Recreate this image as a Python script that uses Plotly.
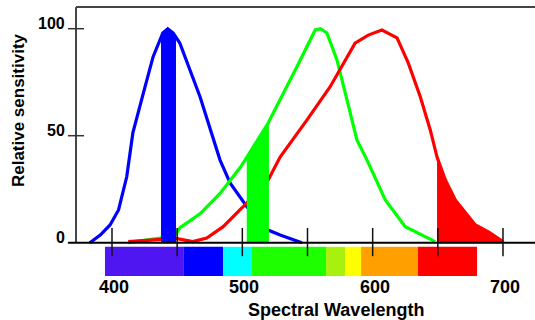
import numpy as np
import plotly.graph_objects as go

# ---------------- data ----------------
blue_nm = [383, 391, 398.5, 405, 411.3, 416, 424, 431.5, 439, 442.8, 447, 452, 467.6, 482.9, 490.6, 503.5, 519.8, 529, 545.7]
blue_val = [0, 3.6, 8.3, 15.3, 30.8, 51.3, 69.8, 86.8, 98, 100, 98, 93.3, 68.1, 38.6, 27.9, 16.8, 5.9, 3.6, 0]

green_nm = [412.5, 425, 436.9, 449, 452.2, 467.5, 482.9, 498.2, 502.1, 519.8, 529, 541.9, 555.9, 560, 564.9, 572.6, 580.3, 587.9, 595.6, 609.7, 625, 648]
green_val = [0, 1, 2.2, 4, 7, 13.5, 23, 35, 38.6, 55.9, 66.7, 82.2, 99.4, 100, 98, 85.4, 66.7, 48, 38.7, 20, 7.5, 0.5]

red_nm = [412.5, 430, 449, 462, 472.7, 485.3, 500.6, 519.8, 529, 549.5, 567.4, 586.5, 590.5, 596.6, 607.1, 618.7, 627.3, 636.6, 644.2, 649.4, 655.8, 663.4, 678.8, 688.8, 700]
red_val = [0.5, 1.3, 2, 0.5, 2.2, 7.5, 16.8, 29.3, 40, 57.3, 72.9, 93.2, 94.7, 97, 99.4, 95.7, 84, 68.1, 52.7, 40, 29.3, 20, 8.3, 5.1, 0.5]

# shaded bands under each curve (nm)
blue_band = [437.6, 448.7]
green_band = [503.4, 520]
red_band = [649.4, 700]

# spectrum strip: band edges (nm) and colours
spectrum_edges = [394.6, 454.7, 485.2, 507.4, 564.2, 578.8, 591.1, 634.8, 680.1]
spectrum_colors = ["#5016f2", "#0000ff", "#00ffff", "#1eff00", "#a8f010", "#ffff00", "#ffa000", "#ff0000"]

x_ticks = [400, 450, 500, 550, 600, 650, 700]
x_tick_labels = ["400", "500", "600", "700"]
x_label_vals = [400, 500, 600, 700]
y_ticks = [0, 50, 100]
y_tick_labels = ["0", "50", "100"]

# ---------------- geometry (axis ranges) ----------------
X0, X1 = 314.06, 724.56
Y0, Y1 = -36.12, 113.41
X_AXIS_LEFT = 372.4
Y_TOP = 110.1

fig = go.Figure()

def line(nm, val, color):
    fig.add_trace(go.Scatter(x=nm, y=val, mode="lines",
                             line=dict(color=color, width=3.2),
                             hoverinfo="skip", showlegend=False))

def band(nm, val, lo, hi, color):
    nm = np.asarray(nm, float); val = np.asarray(val, float)
    inner = (nm > lo) & (nm < hi)
    xs = [lo] + list(nm[inner]) + [hi]
    ys = list(np.interp(xs, nm, val))
    px = xs + [hi, lo]
    py = ys + [0, 0]
    fig.add_trace(go.Scatter(x=px, y=py, mode="lines", fill="toself",
                             fillcolor=color, line=dict(color=color, width=1),
                             hoverinfo="skip", showlegend=False))

line(blue_nm, blue_val, "#0000ff")
line(green_nm, green_val, "#00ff00")
line(red_nm, red_val, "#ff0000")
band(blue_nm, blue_val, *blue_band, "#0000ff")
band(green_nm, green_val, *green_band, "#00ff00")
band(red_nm, red_val, *red_band, "#ff0000")

shapes = []
# spectrum strip
for i, c in enumerate(spectrum_colors):
    shapes.append(dict(type="rect", xref="x", yref="y",
                       x0=spectrum_edges[i], x1=spectrum_edges[i + 1],
                       y0=-1.9, y1=-15.6, fillcolor=c, line=dict(width=0), layer="below"))
# frame
shapes.append(dict(type="line", xref="x", yref="y", x0=X_AXIS_LEFT, x1=X1, y0=Y_TOP, y1=Y_TOP,
                   line=dict(color="#444444", width=2)))
shapes.append(dict(type="line", xref="x", yref="y", x0=X_AXIS_LEFT, x1=X_AXIS_LEFT, y0=0, y1=Y_TOP,
                   line=dict(color="#444444", width=2)))
# baseline
shapes.append(dict(type="line", xref="x", yref="y", x0=366.2, x1=X1, y0=0, y1=0,
                   line=dict(color="#000000", width=2)))
# x ticks crossing baseline
for t in x_ticks:
    shapes.append(dict(type="line", xref="x", yref="y", x0=t, x1=t, y0=6.9, y1=-6.3,
                       line=dict(color="#111111", width=1.5)))
# y ticks
for t in y_ticks[1:]:
    shapes.append(dict(type="line", xref="x", yref="y", x0=366.2, x1=378.5, y0=t, y1=t,
                       line=dict(color="#333333", width=1.5)))

font = dict(family="Liberation Sans, Arial, sans-serif", color="#000000", weight="bold")
annotations = []
for v, s in zip(y_ticks, y_tick_labels):
    annotations.append(dict(x=365.8, y=v, xref="x", yref="y", text=s, showarrow=False,
                            xanchor="right", yanchor="middle", yshift=5,
                            font=dict(font, size=16)))
for v, s in zip(x_label_vals, x_tick_labels):
    annotations.append(dict(x=v, y=-20.7, xref="x", yref="y", text=s, showarrow=False,
                            xanchor="center", yanchor="middle", xshift=2,
                            font=dict(font, size=18)))
annotations.append(dict(x=571.9, y=-31.4, xref="x", yref="y", text="Spectral Wavelength",
                        showarrow=False, xanchor="center", yanchor="middle",
                        font=dict(font, size=18)))
annotations.append(dict(x=327.9, y=62, xref="x", yref="y", text="Relative sensitivity",
                        showarrow=False, xanchor="center", yanchor="middle", textangle=-90,
                        font=dict(font, size=17)))

fig.update_layout(
    width=535, height=320, autosize=False,
    margin=dict(l=0, r=0, t=0, b=0, pad=0),
    paper_bgcolor="white", plot_bgcolor="white",
    xaxis=dict(range=[X0, X1], visible=False, fixedrange=True),
    yaxis=dict(range=[Y0, Y1], visible=False, fixedrange=True),
    shapes=shapes, annotations=annotations, showlegend=False,
)

fig.write_html("out.html", config={"displayModeBar": False})
